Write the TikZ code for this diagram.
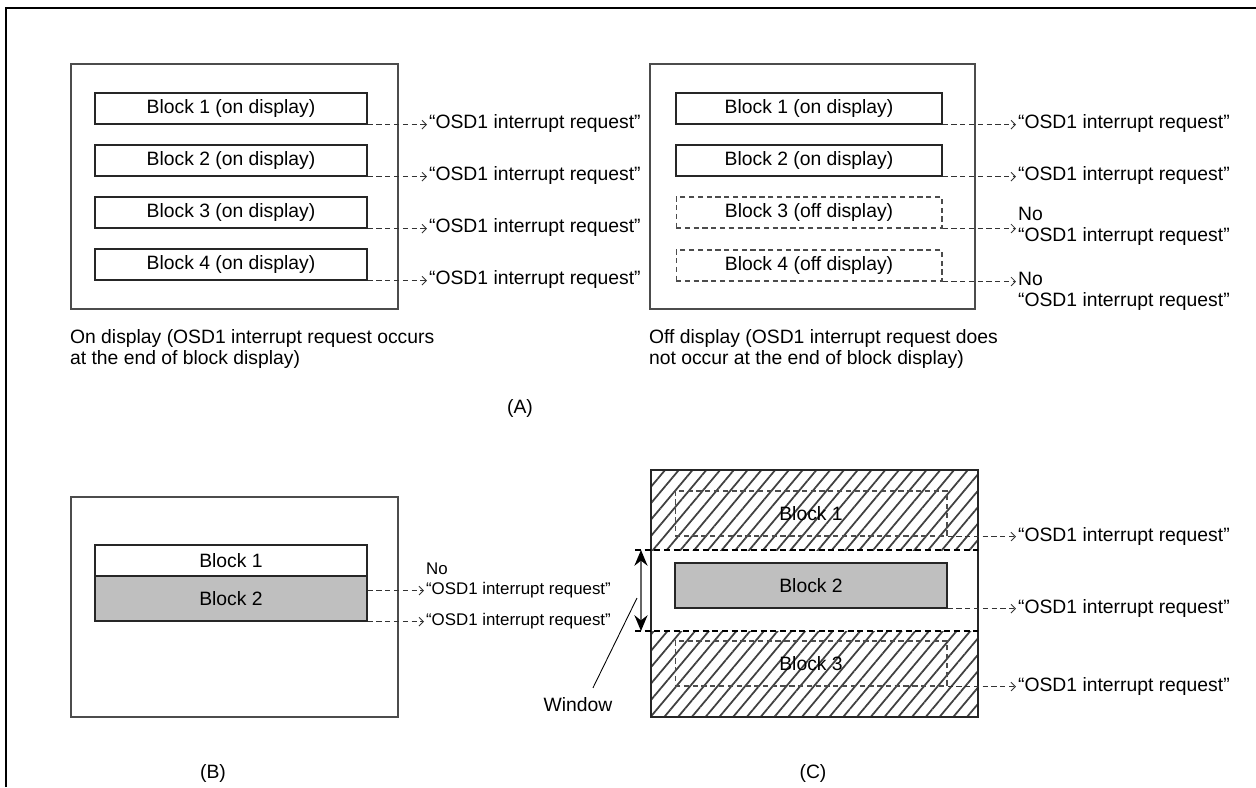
\documentclass[tikz,border=0pt]{standalone}
\usepackage{fontspec}
\setmainfont{Liberation Sans}
\usetikzlibrary{arrows.meta,patterns.meta}
\begin{document}
\begin{tikzpicture}[x=0.02cm, y=-0.02cm,
  every node/.style={font=\fontsize{11}{12.1}\selectfont, inner sep=1pt},
  panel/.style={draw=black!70, line width=0.8pt},
  blk/.style={draw=black!85, line width=0.75pt, inner sep=0pt, minimum width=5.44cm, minimum height=0.62cm},
  offblk/.style={blk, draw=black!70, dash pattern=on 3pt off 2pt, line width=0.6pt},
  req/.style={draw=black!80, line width=0.5pt, dash pattern=on 3pt off 2pt, -{Straight Barb[length=2.5pt,width=5pt]}},
  reqtext/.style={anchor=west, align=left},
  smalltext/.style={font=\fontsize{9.6}{11.8}\selectfont},
  hatch/.style={pattern={Lines[angle=50,distance=6pt,line width=1pt]}, pattern color=black!75},
  sep/.style={line width=1.1pt, dash pattern=on 3.5pt off 2pt},
  captext/.style={anchor=north west, align=left},
  winhead/.tip={Stealth[length=9pt,width=7.5pt,inset=3pt,color=black]}]
\useasboundingbox (0,0) rectangle (1256,787);
\draw[line width=1.7pt] (6,787) -- (6,8) -- (1256,8);

% (A) on display
\draw[panel] (71,64) rectangle (398,309);
\node[blk] (la1) at (231,108.5) {Block 1 (on display)};
\node[blk] (la2) at (231,160.5) {Block 2 (on display)};
\node[blk] (la3) at (231,212.5) {Block 3 (on display)};
\node[blk] (la4) at (231,264.5) {Block 4 (on display)};
\node[reqtext] (ta1) at (427,124) {“OSD1 interrupt request”};
\node[reqtext] (ta2) at (427,176) {“OSD1 interrupt request”};
\node[reqtext] (ta3) at (427,228) {“OSD1 interrupt request”};
\node[reqtext] (ta4) at (427,280) {“OSD1 interrupt request”};
\draw[req] (la1.south east) -- (la1.south east -| ta1.west);
\draw[req] (la2.south east) -- (la2.south east -| ta2.west);
\draw[req] (la3.south east) -- (la3.south east -| ta3.west);
\draw[req] (la4.south east) -- (la4.south east -| ta4.west);
\node[captext] (capl) at (68,327) {On display (OSD1 interrupt request occurs\\at the end of block display)};

% (A) off display
\draw[panel] (650,64) rectangle (975,309);
\node[blk, minimum width=5.32cm] (ra1) at (809,108.5) {Block 1 (on display)};
\node[blk, minimum width=5.32cm] (ra2) at (809,160.5) {Block 2 (on display)};
\node[offblk, minimum width=5.32cm] (ra3) at (809,212.5) {Block 3 (off display)};
\node[offblk, minimum width=5.32cm] (ra4) at (809,265.5) {Block 4 (off display)};
\node[reqtext] (tr1) at (1016,124) {“OSD1 interrupt request”};
\node[reqtext] (tr2) at (1016,176) {“OSD1 interrupt request”};
\node[reqtext] (tr3) at (1016,226) {No\\“OSD1 interrupt request”};
\node[reqtext] (tr4) at (1016,291) {No\\“OSD1 interrupt request”};
\draw[req] (ra1.south east) -- (ra1.south east -| tr1.west);
\draw[req] (ra2.south east) -- (ra2.south east -| tr2.west);
\draw[req] (ra3.south east) -- (ra3.south east -| tr3.west);
\draw[req] (ra4.south east) -- (ra4.south east -| tr4.west);
\node[captext] (capr) at (647,327) {Off display (OSD1 interrupt request does\\not occur at the end of block display)};
\node (capa) at (520,408) {(A)};

% (B)
\draw[panel] (71,497) rectangle (398,717);
\node[blk, fill=white] (bb1) at (231,560.5) {Block 1};
\node[blk, fill=black!25, minimum height=0.9cm] (bb2) at (231,598.5) {Block 2};
\node[reqtext, smalltext] (tb1) at (424,580.5) {No\\“OSD1 interrupt request”};
\node[reqtext, smalltext] (tb2) at (424,621) {“OSD1 interrupt request”};
\draw[req] ([yshift=4.5pt]bb2.east) -- ([yshift=4.5pt]bb2.east -| tb1.west);
\draw[req] (bb2.south east) -- (bb2.south east -| tb2.west);
\node (capb) at (213,773) {(B)};

% (C)
\fill[hatch] (651,470) rectangle (978,550);
\fill[hatch] (651,631) rectangle (978,717);
\draw[panel, draw=black!85] (651,470) rectangle (978,717);
\coordinate (wt) at (635,550);
\coordinate (wb) at (635,631);
\draw[sep] (wt) -- (978,550);
\draw[sep] (wb) -- (978,631);
\node[offblk, minimum height=0.9cm] (cb1) at (811,513.5) {Block 1};
\node[blk, fill=black!25, minimum height=0.9cm] (cb2) at (811,585.5) {Block 2};
\node[offblk, minimum height=0.9cm] (cb3) at (811,663.5) {Block 3};
\node[reqtext] (tc1) at (1016,536) {“OSD1 interrupt request”};
\node[reqtext] (tc2) at (1016,608) {“OSD1 interrupt request”};
\node[reqtext] (tc3) at (1016,686) {“OSD1 interrupt request”};
\draw[req] (cb1.south east) -- (cb1.south east -| tc1.west);
\draw[req] (cb2.south east) -- (cb2.south east -| tc2.west);
\draw[req] (cb3.south east) -- (cb3.south east -| tc3.west);
\draw[draw=black!60, line width=0.8pt, winhead-winhead] ([xshift=3.4pt]wt) -- ([xshift=3.4pt]wb);
\node (win) at (578,705) {Window};
\coordinate (wl) at (637,598);
\draw[line width=0.5pt] (wl) -- ([xshift=8.5pt,yshift=4.5pt]win.north);
\node (capc) at (813,773) {(C)};
\end{tikzpicture}
\end{document}
